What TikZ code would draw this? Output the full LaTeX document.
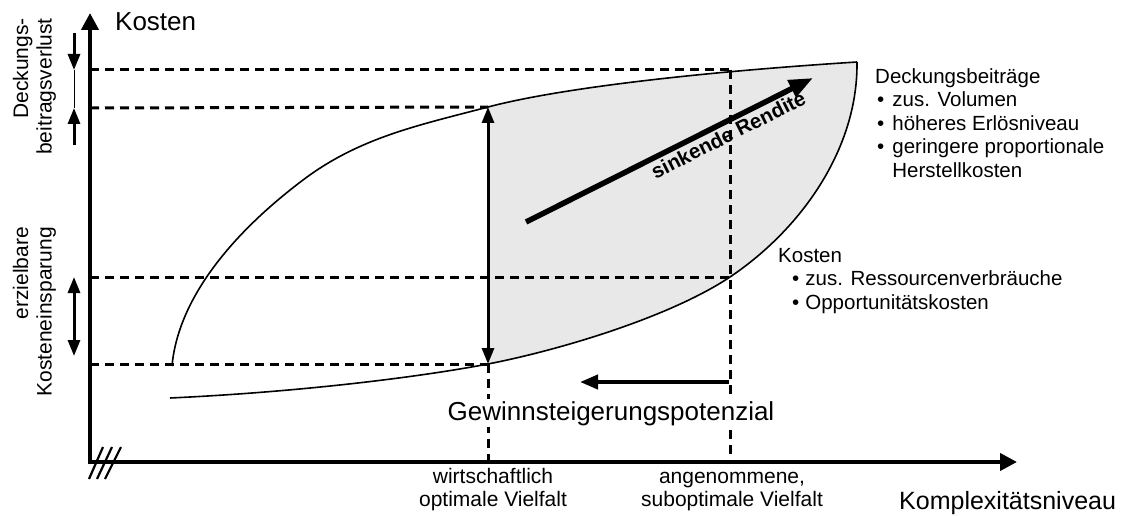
\documentclass[tikz,border=0pt]{standalone}
\usepackage{fontspec}
\setmainfont{Liberation Sans}
\usetikzlibrary{arrows.meta}
\definecolor{shadegray}{HTML}{E8E8E8}
\newcommand{\fsBig}{\fontsize{26}{30}\selectfont}
\newcommand{\fsAxis}{\fontsize{25}{30}\selectfont}
\newcommand{\fsMid}{\fontsize{21}{23.5}\selectfont}
\newcommand{\fsRight}{\fontsize{20.5}{23.5}\selectfont}
\newcommand{\fsBold}{\fontsize{20.5}{24}\selectfont\bfseries}
\begin{document}
\begin{tikzpicture}[x=1pt,y=-1pt,
  axisline/.style={line width=4pt,{Triangle[length=17pt,width=17pt]}-{Triangle[length=17pt,width=17pt]}},
  dashline/.style={line width=3pt,dash pattern=on 9pt off 6pt},
  curveline/.style={line width=1.6pt},
  hashline/.style={line width=2.2pt},
  dblarrow/.style={line width=3pt,{Triangle[length=16pt,width=12pt]}-{Triangle[length=16pt,width=12pt]}},
  sglarrow/.style={line width=3pt,-{Triangle[length=16pt,width=12pt]}},
  thinline/.style={line width=1pt},
  bigarrow/.style={line width=5.5pt,-{Triangle[length=24pt,width=18pt]}},
  midarrow/.style={line width=4pt,-{Triangle[length=18pt,width=14pt]}},
  vlabel/.style={rotate=90,align=right,inner sep=0pt,font=\fsMid,anchor=north east},
  xlabel/.style={align=center,inner sep=0pt,font=\fsMid,anchor=north},
  rlabel/.style={inner sep=0pt,font=\fsRight,anchor=north west}]
\useasboundingbox (0,0) rectangle (1124,516);

% key points
\coordinate (O) at (90,462);
\coordinate (Ytip) at (90,13);
\coordinate (Xtip) at (1017,462);
\coordinate (yA) at (90,70);   \coordinate (pA) at (730,70);
\coordinate (yB) at (90,108);  \coordinate (pB) at (488,107);
\coordinate (yC) at (90,277);  \coordinate (pC) at (730,277);
\coordinate (yD) at (90,364);  \coordinate (pD) at (488,364);
\coordinate (xOpt) at (488,462); \coordinate (xSub) at (730,462);
\coordinate (uS) at (172,366); \coordinate (uM) at (303,180); \coordinate (uE) at (857,62);
\coordinate (lS) at (170,398);

% shaded region
\fill[shadegray] (pB) .. controls (560,88) and (700,72) .. (uE)
  .. controls (858,150) and (800,230) .. (pC)
  .. controls (670,317) and (560,350) .. (pD) -- cycle;

% dashed guide lines
\draw[dashline] (yA) -- (pA);
\draw[dashline] (pA) -- (xSub);
\draw[dashline] (yB) -- (pB);
\draw[dashline] (yC) -- (pC);
\draw[dashline] (yD) -- (pD);
\draw[dashline] (pD) -- (xOpt);

% curves
\draw[curveline] (uS) .. controls (178,300) and (230,235) .. (uM)
  .. controls (360,137) and (420,125) .. (pB)
  .. controls (560,88) and (700,72) .. (uE);
\draw[curveline] (uE) .. controls (858,150) and (800,230) .. (pC)
  .. controls (670,317) and (560,350) .. (pD)
  .. controls (420,377) and (300,392) .. (lS);

% axes
\draw[axisline] (Ytip) -- (O) -- (Xtip);
\draw[hashline] (89,479) -- (103,447);
\draw[hashline] (97,479) -- (112,447);
\draw[hashline] (105,479) -- (121,447);

% vertical double arrow
\draw[dblarrow] (pB) -- (pD);

% left small arrows
\coordinate (lA1) at (74,33);  \coordinate (lA2) at (74,70);
\coordinate (lA3) at (74,108); \coordinate (lA4) at (74,145);
\coordinate (lB1) at (74,277); \coordinate (lB2) at (74,356);
\draw[sglarrow] (lA1) -- (lA2);
\draw[thinline] (lA2) -- (lA3);
\draw[sglarrow] (lA4) -- (lA3);
\draw[dblarrow] (lB1) -- (lB2);

% sinkende Rendite arrow
\coordinate (rA) at (526,222);
\coordinate (rB) at (813,78);
\draw[bigarrow] (rA) -- (rB);
\path (rA) -- (rB) coordinate[pos=0.685] (rmid);
\node[rotate=26.64,anchor=north,inner sep=5pt,font=\fsBold] (rend) at (rmid) {sinkende Rendite};

% Gewinn arrow
\coordinate (gA) at (729,382);
\coordinate (gB) at (580,382);
\draw[midarrow] (gA) -- (gB);
\node[anchor=base,fill=white,inner sep=2pt,font=\fsBig] (gew) at (611,420) {Gewinnsteigerungspotenzial};

% axis labels
\node[anchor=base west,inner sep=0pt,font=\fsBig] (ylab) at (115,31) {Kosten};
\node[anchor=base west,inner sep=0pt,font=\fsAxis] (xlab) at (899,509) {Komplexitätsniveau};
\node[xlabel] (lopt) at (493,466.5) {\strut wirtschaftlich\\optimale Vielfalt};
\node[xlabel] (lsub) at (732,466.5) {\strut angenommene,\\suboptimale Vielfalt};

% left rotated labels
\node[vlabel] (ldb) at (11.5,18) {\strut Deckungs-\\beitragsverlust};
\node[vlabel] (lks) at (11.5,227) {\strut erzielbare\\Kosteneinsparung};

% right text blocks
\node[rlabel] (tdb) at (875,66.5) {\begin{tabular}{@{\hspace{2pt}}l@{\hspace{8pt}}l@{}}
\multicolumn{2}{@{}l@{}}{Deckungsbeiträge}\\
\textbullet & zus. Volumen\\
\textbullet & höheres Erlösniveau\\
\textbullet & geringere proportionale\\
 & Herstellkosten
\end{tabular}};
\node[rlabel] (tks) at (778,245.5) {\begin{tabular}{@{\hspace{14pt}}l@{\hspace{6pt}}l@{}}
\multicolumn{2}{@{}l@{}}{Kosten}\\
\textbullet & zus. Ressourcenverbräuche\\
\textbullet & Opportunitätskosten
\end{tabular}};
\end{tikzpicture}
\end{document}
